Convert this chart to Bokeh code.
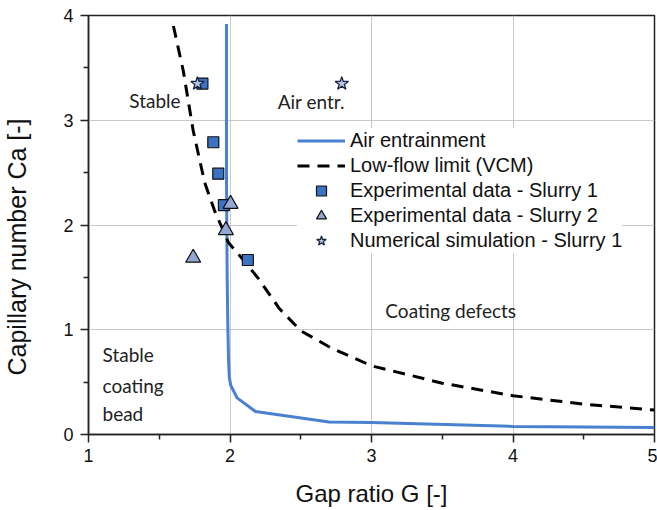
from bokeh.plotting import figure
from bokeh.models import Legend, LegendItem, Label, FixedTicker, Title
from bokeh.embed import file_html
from bokeh.resources import INLINE

# Air entrainment boundary
air_x = [1.975, 1.975, 1.98, 1.985, 1.99, 1.995, 2.005, 2.05, 2.18, 2.7, 3.0, 4.0, 5.0]
air_y = [3.92, 2.5, 1.5, 1.0, 0.7, 0.55, 0.47, 0.35, 0.22, 0.12, 0.115, 0.077, 0.067]

# Low-flow limit (VCM)
vcm_x = [1.6, 1.67, 1.74, 1.82, 1.89, 1.99, 2.08, 2.2, 2.35, 2.5, 2.71, 3.0, 3.5, 4.0, 4.5, 5.0]
vcm_y = [3.9, 3.47, 2.9, 2.41, 2.14, 1.83, 1.69, 1.49, 1.2, 0.99, 0.83, 0.656, 0.49, 0.37, 0.29, 0.233]

# Experimental data - Slurry 1
s1_x = [1.805, 1.882, 1.917, 1.957, 2.126]
s1_y = [3.35, 2.79, 2.49, 2.19, 1.666]

# Experimental data - Slurry 2
s2_x = [2.004, 1.971, 1.74]
s2_y = [2.2, 1.95, 1.686]

# Numerical simulation - Slurry 1
num_x = [1.77, 2.79]
num_y = [3.35, 3.35]

# Region annotations
notes = [("Stable", 1.651, 3.19, "right"),
         ("Air entr.", 2.337, 3.18, "left"),
         ("Coating defects", 3.098, 1.18, "left"),
         ("Stable", 1.099, 0.762, "left"),
         ("coating", 1.099, 0.466, "left"),
         ("bead", 1.099, 0.198, "left")]

x_ticks = [1, 2, 3, 4, 5]
y_ticks = [0, 1, 2, 3, 4]

p = figure(width=657, height=510, x_range=(1, 5), y_range=(0, 4),
           output_backend="svg", toolbar_location=None,
           min_border_left=88, min_border_right=3, min_border_top=15, min_border_bottom=76)
p.background_fill_color = "white"
p.border_fill_color = "white"
p.outline_line_color = "#222222"
p.outline_line_width = 1.5

for ax in (p.xaxis[0], p.yaxis[0]):
    ax.axis_line_color = "#222222"
    ax.axis_line_width = 1.5
    ax.major_tick_line_color = "#222222"
    ax.minor_tick_line_color = "#222222"
    ax.major_tick_line_width = 1.5
    ax.minor_tick_line_width = 1.5
    ax.major_tick_out = 8
    ax.major_tick_in = 0
    ax.minor_tick_out = 5
    ax.minor_tick_in = 0
    ax.major_label_text_font = "Liberation Sans"
    ax.major_label_text_font_size = "18px"
    ax.major_label_text_color = "#111111"
    ax.axis_label_text_font = "Liberation Sans"
    ax.axis_label_text_font_size = "24px"
    ax.axis_label_text_font_style = "normal"
    ax.axis_label_text_color = "#111111"

p.xaxis.ticker = FixedTicker(ticks=x_ticks, minor_ticks=[1.5, 2.5, 3.5, 4.5])
p.yaxis.ticker = FixedTicker(ticks=y_ticks, minor_ticks=[0.5, 1.5, 2.5, 3.5])
p.xaxis.axis_label = "Gap ratio G [-]"
p.xaxis.major_label_standoff = 6
p.yaxis.major_label_standoff = 7
p.xaxis.axis_label_standoff = 15
# blank spacer label so the y title sits further out
p.yaxis.axis_label = " "
p.yaxis.axis_label_text_font_size = "16px"
p.yaxis.axis_label_standoff = 9

# y-axis title as a left-side title, shifted down a little like the reference
ytitle = Title(text="Capillary number Ca [-]", align="left", offset=59,
               text_font="Liberation Sans", text_font_size="25px",
               text_font_style="normal", text_color="#111111")
ytitle.standoff = 1
p.add_layout(ytitle, "left")

p.xgrid.grid_line_color = "#c8c8c8"
p.ygrid.grid_line_color = "#c8c8c8"
p.xgrid.grid_line_width = 1
p.ygrid.grid_line_width = 1

r_air = p.line(air_x, air_y, line_color="#4a80d0", line_width=3)
r_vcm = p.line(vcm_x, vcm_y, line_color="black", line_width=3, line_dash="12 8")
r_s1 = p.scatter(s1_x, s1_y, marker="square", size=11, fill_color="#3a72c4",
                 line_color="#111111", line_width=1.2)
r_s2 = p.scatter(s2_x, s2_y, marker="triangle", size=15, fill_color="#93a7d2",
                 line_color="#111111", line_width=1.2)
r_num = p.scatter(num_x, num_y, marker="star", size=14, fill_color="#b3c4e6",
                  line_color="#1a2440", line_width=1.3)

for t, x, y, al in notes:
    p.add_layout(Label(x=x, y=y, text=t, text_font="Lato", text_font_size="19px",
                       text_color="#222222", text_align=al, text_baseline="middle"))

legend = Legend(items=[
    LegendItem(label="Air entrainment", renderers=[r_air]),
    LegendItem(label="Low-flow limit (VCM)", renderers=[r_vcm]),
    LegendItem(label="Experimental data - Slurry 1", renderers=[r_s1]),
    LegendItem(label="Experimental data - Slurry 2", renderers=[r_s2]),
    LegendItem(label="Numerical simulation - Slurry 1", renderers=[r_num]),
], location=(209, 181))
legend.label_text_font = "Liberation Sans"
legend.label_text_font_size = "20px"
legend.label_text_color = "#111111"
legend.glyph_width = 48
legend.glyph_height = 25
legend.label_height = 25
legend.label_standoff = 5
legend.spacing = 0
legend.padding = 6
legend.margin = 0
legend.border_line_color = None
legend.background_fill_color = "white"
legend.background_fill_alpha = 1.0
p.add_layout(legend)

open("out.html", "w").write(file_html(p, INLINE))
